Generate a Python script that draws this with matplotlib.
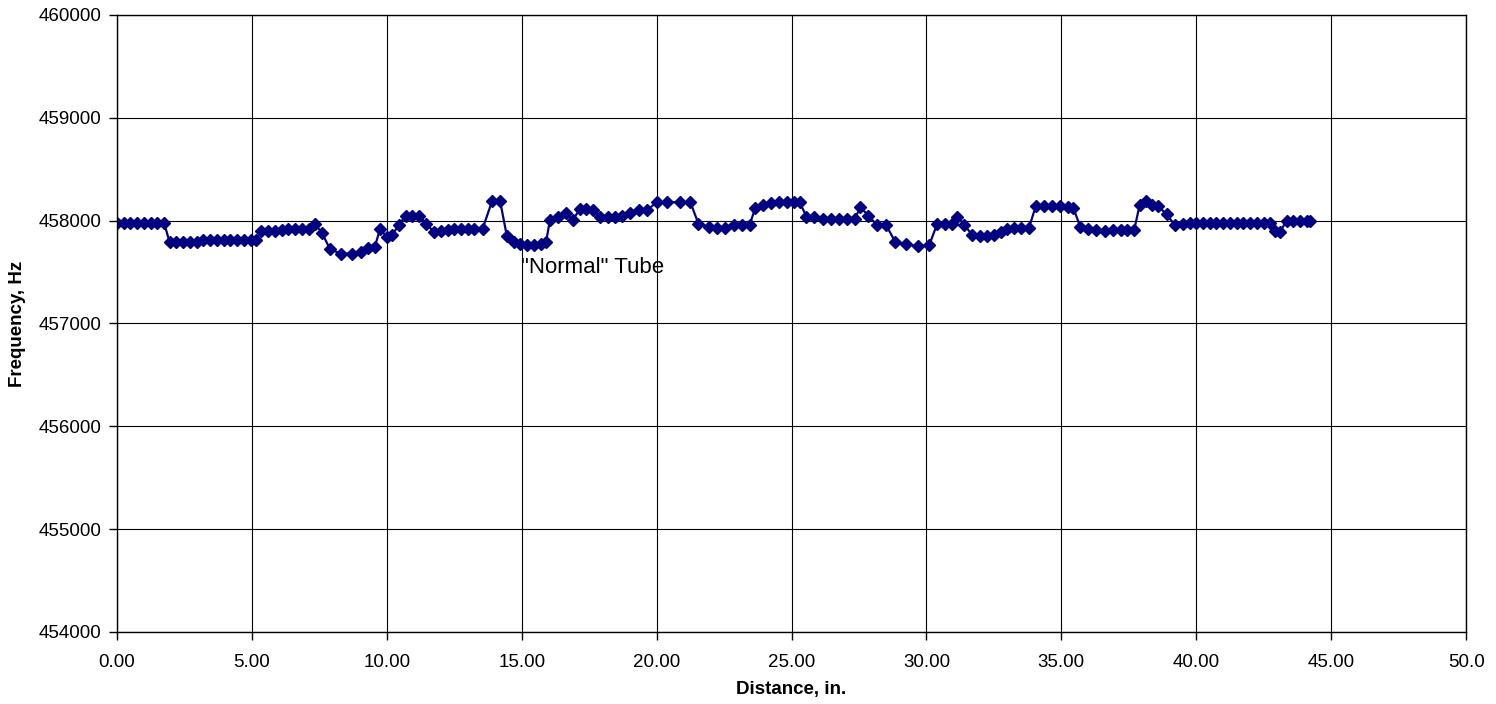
import matplotlib
matplotlib.use('Agg')
import matplotlib.pyplot as plt

distance = [0.00, 0.25, 0.50, 0.75, 1.00, 1.25, 1.50, 1.75,
            1.95, 2.20, 2.45, 2.70, 2.95, 3.20, 3.45, 3.70, 3.95, 4.20, 4.45, 4.70, 4.95, 5.15,
            5.35, 5.60, 5.85, 6.10, 6.35, 6.60, 6.85, 7.10,
            7.35, 7.60, 7.90, 8.30, 8.70, 9.05, 9.30, 9.55, 9.75, 10.00, 10.20, 10.45,
            10.70, 10.95, 11.20, 11.45, 11.75,
            12.00, 12.25, 12.50, 12.75, 13.00, 13.25, 13.55, 13.90, 14.20, 14.45, 14.70,
            14.95, 15.20, 15.45, 15.70, 15.90,
            16.05, 16.35, 16.65, 16.90, 17.15, 17.40, 17.65, 17.90, 18.20, 18.45, 18.70,
            19.00, 19.35, 19.65, 20.00, 20.40, 20.85, 21.25,
            21.55, 21.95, 22.25, 22.55, 22.85, 23.15, 23.45, 23.65, 23.95, 24.25, 24.55,
            24.85, 25.10, 25.30,
            25.55, 25.85, 26.15, 26.45, 26.75, 27.05, 27.35, 27.55, 27.85, 28.15, 28.50,
            28.85, 29.25, 29.70, 30.10,
            30.40, 30.70, 30.95, 31.15, 31.40, 31.70, 32.00, 32.25, 32.50, 32.75, 33.00,
            33.25, 33.50, 33.80,
            34.05, 34.35, 34.65, 34.95, 35.25, 35.45, 35.70, 36.00, 36.30, 36.60, 36.90,
            37.20, 37.45, 37.70,
            37.90, 38.15, 38.35, 38.60, 38.90, 39.20, 39.50, 39.75, 40.00, 40.25, 40.50,
            40.75, 41.00, 41.25, 41.50, 41.75, 42.00, 42.25, 42.50, 42.75,
            42.90, 43.10, 43.35, 43.60, 43.85, 44.10, 44.20]
frequency = [457980, 457980, 457975, 457980, 457980, 457980, 457980, 457975,
             457790, 457790, 457790, 457790, 457795, 457810, 457815, 457815, 457815, 457815,
             457815, 457815, 457815, 457815,
             457900, 457895, 457900, 457910, 457920, 457920, 457915, 457920,
             457965, 457880, 457720, 457680, 457680, 457700, 457730, 457740, 457920,
             457840, 457860, 457960,
             458050, 458050, 458050, 457970, 457890,
             457900, 457910, 457920, 457920, 457920, 457920, 457920, 458190, 458190,
             457850, 457790,
             457770, 457760, 457760, 457770, 457790,
             458010, 458040, 458070, 458010, 458110, 458110, 458100, 458040, 458040,
             458040, 458050,
             458070, 458100, 458100, 458180, 458180, 458180, 458180,
             457970, 457940, 457930, 457930, 457960, 457960, 457960, 458120, 458150,
             458170, 458180,
             458180, 458180, 458180,
             458040, 458040, 458020, 458020, 458020, 458020, 458020, 458130, 458050,
             457960, 457960,
             457790, 457770, 457750, 457760,
             457970, 457970, 457970, 458040, 457960, 457860, 457850, 457850, 457860,
             457890, 457920,
             457930, 457930, 457930,
             458140, 458140, 458140, 458140, 458130, 458120, 457940, 457920, 457910,
             457900, 457910,
             457910, 457910, 457910,
             458150, 458190, 458150, 458140, 458060, 457960, 457970, 457980, 457980,
             457980, 457980,
             457980, 457980, 457980, 457980, 457980, 457980, 457980, 457980, 457980,
             457900, 457890, 458000, 458000, 458000, 458000, 458000]

x_ticks = [0, 5, 10, 15, 20, 25, 30, 35, 40, 45, 50]
x_tick_labels = ["0.00", "5.00", "10.00", "15.00", "20.00", "25.00", "30.00",
                 "35.00", "40.00", "45.00", "50.0"]
y_ticks = [454000, 455000, 456000, 457000, 458000, 459000, 460000]

plt.rcParams['font.family'] = ['Liberation Sans', 'DejaVu Sans']

fig = plt.figure(figsize=(14.96, 7.04), dpi=100)
ax = fig.add_axes([0.0782, 0.1023, 0.9018, 0.8764])

ax.plot(distance, frequency, '-', color='#000080', lw=1.6,
        marker='D', markersize=6.5, markerfacecolor='#000080',
        markeredgecolor='#000080')

ax.set_xlim(0, 50)
ax.set_ylim(454000, 460000)
ax.set_xticks(x_ticks)
ax.set_xticklabels(x_tick_labels)
ax.set_yticks(y_ticks)
ax.set_yticklabels([str(v) for v in y_ticks])
ax.grid(True, color='black', lw=0.8)
ax.set_axisbelow(True)
ax.tick_params(direction='out', length=6, width=1, labelsize=13.5)
ax.tick_params(axis='x', pad=10)
ax.tick_params(axis='y', pad=5)
for s in ax.spines.values():
    s.set_color('black')
    s.set_linewidth(1)

ax.set_xlabel("Distance, in.", fontsize=13.5, fontweight='bold', labelpad=7)
ax.set_ylabel("Frequency, Hz", fontsize=13.5, fontweight='bold', labelpad=9)

ax.text(14.97, 457490, '"Normal" Tube', fontsize=16, va='baseline', ha='left')

fig.savefig("out.png", dpi=100)
